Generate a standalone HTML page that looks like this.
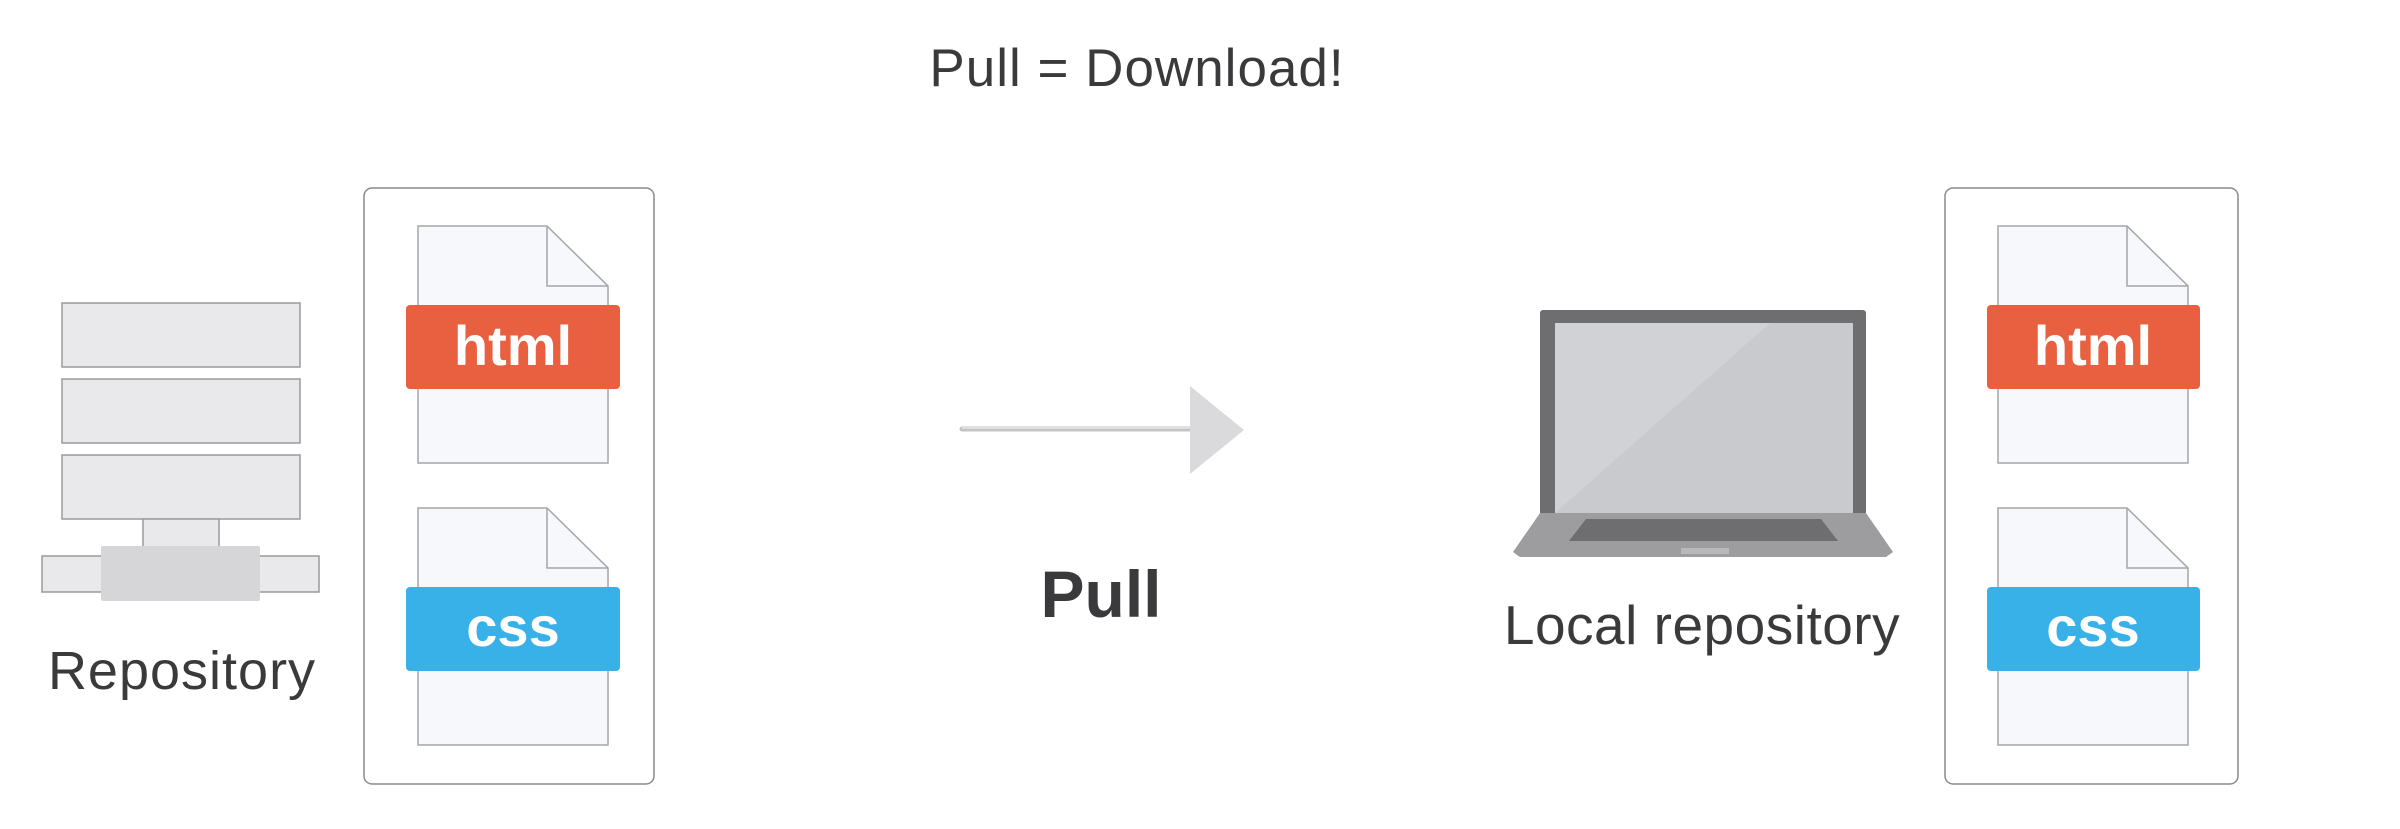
<!DOCTYPE html>
<html><head><meta charset="utf-8"><style>
html,body{margin:0;padding:0;background:#fff;}
body{width:2400px;height:824px;position:relative;overflow:hidden;font-family:"Liberation Sans",sans-serif;}
</style></head><body>
<svg width="2400" height="824" viewBox="0 0 2400 824" xmlns="http://www.w3.org/2000/svg">
<text x="1137" y="86" font-family="Liberation Sans, sans-serif" font-size="53" letter-spacing="1" fill="#3a3a3d" text-anchor="middle">Pull = Download!</text>

<!-- left box -->
<rect x="364" y="188" width="290" height="596" rx="8" fill="#fff" stroke="#8a8a8e" stroke-width="1.5"/>
<!-- server -->
<g fill="#e9e9eb" stroke="#9a9a9e" stroke-width="1.5">
<rect x="62" y="303" width="238" height="64"/>
<rect x="62" y="379" width="238" height="64"/>
<rect x="62" y="455" width="238" height="64"/>
<rect x="143" y="519" width="76" height="28"/>
<rect x="42" y="556" width="277" height="36"/>
</g>
<rect x="101" y="546" width="159" height="55" rx="2" fill="#d6d6d9"/>
<text x="182" y="689" font-family="Liberation Sans, sans-serif" font-size="54" letter-spacing="1" fill="#3a3a3d" text-anchor="middle">Repository</text>

<!-- docs left -->
<g fill="#f7f8fb" stroke="#a6a6aa" stroke-width="1.5">
<path d="M418 226 H547 L608 286 V463 H418 Z"/>
<path d="M547 226 V286 H608" fill="none"/>
<path d="M418 508 H547 L608 568 V745 H418 Z"/>
<path d="M547 508 V568 H608" fill="none"/>
</g>
<rect x="406" y="305" width="214" height="84" rx="4" fill="#e8603f"/>
<text x="513" y="365" font-family="Liberation Sans, sans-serif" font-size="56" font-weight="bold" fill="#fff" text-anchor="middle">html</text>
<rect x="406" y="587" width="214" height="84" rx="4" fill="#38b1e8"/>
<text x="513" y="646" font-family="Liberation Sans, sans-serif" font-size="56" font-weight="bold" fill="#fff" text-anchor="middle">css</text>

<!-- arrow -->
<line x1="962" y1="429" x2="1192" y2="429" stroke="#c4c4c8" stroke-width="5" stroke-linecap="round"/>
<line x1="962" y1="428" x2="1192" y2="428" stroke="#e6e6e8" stroke-width="1.5"/>
<polygon points="1190,386 1244,430 1190,474" fill="#dadadd"/>
<text x="1101" y="617" font-family="Liberation Sans, sans-serif" font-size="66" font-weight="bold" fill="#3a3a3d" text-anchor="middle">Pull</text>

<!-- laptop -->
<rect x="1540" y="310" width="326" height="205" rx="3" fill="#6e6e71"/>
<rect x="1555" y="323" width="298" height="190" fill="#c9cacd"/>
<polygon points="1555,323 1770,323 1555,513" fill="#d1d2d5"/>
<polygon points="1540,513 1866,513 1893,552 1886,557 1520,557 1513,552" fill="#9d9da0"/>
<polygon points="1586,519 1821,519 1838,541 1569,541" fill="#6e6e71"/>
<rect x="1681" y="548" width="48" height="6" fill="#b8b8bb"/>
<text x="1702" y="644" font-family="Liberation Sans, sans-serif" font-size="55" letter-spacing="0.5" fill="#3a3a3d" text-anchor="middle">Local repository</text>

<!-- right box -->
<rect x="1945" y="188" width="293" height="596" rx="8" fill="#fff" stroke="#8a8a8e" stroke-width="1.5"/>
<g fill="#f7f8fb" stroke="#a6a6aa" stroke-width="1.5">
<path d="M1998 226 H2127 L2188 286 V463 H1998 Z"/>
<path d="M2127 226 V286 H2188" fill="none"/>
<path d="M1998 508 H2127 L2188 568 V745 H1998 Z"/>
<path d="M2127 508 V568 H2188" fill="none"/>
</g>
<rect x="1987" y="305" width="213" height="84" rx="4" fill="#e8603f"/>
<text x="2093" y="365" font-family="Liberation Sans, sans-serif" font-size="56" font-weight="bold" fill="#fff" text-anchor="middle">html</text>
<rect x="1987" y="587" width="213" height="84" rx="4" fill="#38b1e8"/>
<text x="2093" y="646" font-family="Liberation Sans, sans-serif" font-size="56" font-weight="bold" fill="#fff" text-anchor="middle">css</text>
</svg>
</body></html>
